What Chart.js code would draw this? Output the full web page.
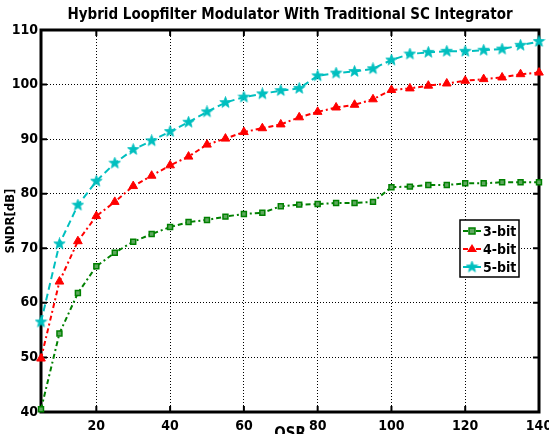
<!DOCTYPE html>
<html>
<head>
<meta charset="utf-8">
<script src="https://cdn.jsdelivr.net/npm/chart.js@4/dist/chart.umd.min.js"></script>
<style>
  html, body { margin: 0; padding: 0; background: #fff; }
  #wrap { width: 549px; height: 434px; position: relative; }
</style>
</head>
<body>
<div id="wrap"><canvas id="c" width="549" height="434"></canvas></div>
<script>
const osr = [5,10,15,20,25,30,35,40,45,50,55,60,65,70,75,80,85,90,95,100,105,110,115,120,125,130,135,140];
const sndr3 = [40.5,54.4,61.8,66.7,69.2,71.2,72.6,73.9,74.8,75.2,75.8,76.3,76.5,77.7,78.0,78.1,78.3,78.3,78.5,81.2,81.3,81.6,81.6,81.9,81.9,82.1,82.1,82.1];
const sndr4 = [49.8,63.9,71.3,75.9,78.5,81.4,83.3,85.2,86.8,89.0,90.1,91.3,92.0,92.7,94.0,95.0,95.8,96.3,97.3,99.0,99.3,99.8,100.2,100.7,101.0,101.3,101.9,102.2];
const sndr5 = [56.5,70.8,77.9,82.3,85.6,88.1,89.7,91.4,93.1,95.0,96.7,97.7,98.3,98.9,99.3,101.6,102.1,102.4,102.9,104.5,105.6,105.9,106.1,106.1,106.3,106.5,107.2,107.9];
const seriesNames = ['3-bit','4-bit','5-bit'];
const xTicks = [20,40,60,80,100,120,140];
const yTicks = [40,50,60,70,80,90,100,110];

const FONT = "'DejaVu Sans Condensed', 'Liberation Sans Narrow', sans-serif";
const GREEN = '#008000', RED = '#ff0000', CYAN = '#00bfbf';

function makeStar(color, size) {
  const c = document.createElement('canvas');
  c.width = size; c.height = size;
  const g = c.getContext('2d');
  const cx = size / 2, cy = size / 2, R = size / 2 - 0.5, r = R * 0.42;
  g.beginPath();
  for (let i = 0; i < 10; i++) {
    const a = -Math.PI / 2 + i * Math.PI / 5;
    const rr = i % 2 === 0 ? R : r;
    const px = cx + rr * Math.cos(a), py = cy + rr * Math.sin(a);
    if (i === 0) g.moveTo(px, py); else g.lineTo(px, py);
  }
  g.closePath();
  g.fillStyle = color; g.fill();
  g.strokeStyle = color; g.lineWidth = 0.8; g.stroke();
  return c;
}
const starImg = makeStar(CYAN, 13);

function pts(ys) { return osr.map((x, i) => ({ x: x, y: ys[i] })); }

const frameAndLegend = {
  id: 'frameAndLegend',
  beforeDatasetsDraw(chart) {
    const ctx = chart.ctx, a = chart.chartArea;
    const xs = chart.scales.x, ys = chart.scales.y;
    ctx.save();
    ctx.strokeStyle = '#000'; ctx.lineWidth = 2;
    ctx.beginPath();
    xTicks.forEach(v => {
      const px = xs.getPixelForValue(v);
      ctx.moveTo(px, a.top); ctx.lineTo(px, a.top + 6);
      ctx.moveTo(px, a.bottom); ctx.lineTo(px, a.bottom - 6);
    });
    yTicks.forEach(v => {
      const py = ys.getPixelForValue(v);
      ctx.moveTo(a.left, py); ctx.lineTo(a.left + 6, py);
      ctx.moveTo(a.right, py); ctx.lineTo(a.right - 6, py);
    });
    ctx.stroke();
    ctx.lineWidth = 3;
    ctx.strokeRect(a.left, a.top, a.right - a.left, a.bottom - a.top);
    ctx.restore();
  },
  afterDatasetsDraw(chart) {
    const ctx = chart.ctx;
    ctx.save();
    const bx = 460, by = 220, bw = 59, bh = 57;
    ctx.fillStyle = '#fff';
    ctx.fillRect(bx, by, bw, bh);
    ctx.lineWidth = 1.5; ctx.strokeStyle = '#000';
    ctx.strokeRect(bx, by, bw, bh);
    const rows = [231, 249, 267];
    chart.data.datasets.forEach((ds, i) => {
      const y = rows[i];
      ctx.strokeStyle = ds.borderColor; ctx.lineWidth = 2;
      ctx.setLineDash(ds.borderDash || []);
      ctx.beginPath(); ctx.moveTo(bx + 3, y); ctx.lineTo(bx + 21, y); ctx.stroke();
      ctx.setLineDash([]);
      const mx = bx + 12;
      if (i === 0) {
        ctx.fillStyle = ds.pointBackgroundColor; ctx.strokeStyle = ds.pointBorderColor; ctx.lineWidth = 1.5;
        ctx.fillRect(mx - 3, y - 3, 6, 6); ctx.strokeRect(mx - 3, y - 3, 6, 6);
      } else if (i === 1) {
        ctx.fillStyle = RED;
        ctx.beginPath(); ctx.moveTo(mx, y - 5); ctx.lineTo(mx + 5, y + 3); ctx.lineTo(mx - 5, y + 3); ctx.closePath(); ctx.fill();
      } else {
        ctx.drawImage(starImg, mx - 6.5, y - 6.5);
      }
      ctx.fillStyle = '#000';
      ctx.font = 'bold 14px ' + FONT;
      ctx.textBaseline = 'middle'; ctx.textAlign = 'left';
      ctx.fillText(ds.label, bx + 23, y + 1);
    });
    ctx.restore();
  }
};

new Chart(document.getElementById('c'), {
  type: 'line',
  data: {
    datasets: [
      { label: seriesNames[0], data: pts(sndr3), borderColor: GREEN, borderWidth: 2, borderDash: [5,3,2,3], clip: false,
        pointStyle: 'rect', pointRadius: 3.5, pointBorderWidth: 1.5, pointBorderColor: GREEN, pointBackgroundColor: '#5fa85f', tension: 0 },
      { label: seriesNames[1], data: pts(sndr4), borderColor: RED, borderWidth: 2, borderDash: [5,3,2,3], clip: false,
        pointStyle: 'triangle', pointRadius: 5, pointBorderWidth: 1, pointBorderColor: RED, pointBackgroundColor: RED, tension: 0 },
      { label: seriesNames[2], data: pts(sndr5), borderColor: CYAN, borderWidth: 2, borderDash: [7,4], clip: false,
        pointStyle: starImg, pointRadius: 6.5, pointBorderColor: CYAN, pointBackgroundColor: CYAN, tension: 0 }
    ]
  },
  options: {
    responsive: false,
    animation: false,
    events: [],
    layout: { padding: { left: 0, right: 10, top: 0, bottom: 0 } },
    plugins: {
      legend: { display: false },
      tooltip: { enabled: false },
      title: {
        display: true,
        fullSize: false,
        text: 'Hybrid Loopfilter Modulator With Traditional SC Integrator',
        color: '#000',
        font: { family: FONT, size: 15, weight: 'bold', lineHeight: 1.0 },
        padding: { top: 8, bottom: 7 }
      }
    },
    scales: {
      x: {
        type: 'linear', min: 5, max: 140,
        afterBuildTicks: s => { s.ticks = xTicks.map(v => ({ value: v })); },
        afterFit: s => { s.height = 22; s.paddingLeft = 0; s.paddingRight = 0; },
        grid: { color: '#000', lineWidth: 1, drawTicks: false },
        border: { display: false, dash: [1,2] },
        ticks: { color: '#000', padding: 6, font: { family: FONT, size: 14, weight: 'bold' }, maxRotation: 0 },
        title: { display: true, text: 'OSR', color: '#000', padding: { top: 0, bottom: -8 },
                 font: { family: FONT, size: 15, weight: 'bold', lineHeight: 1.0 } }
      },
      y: {
        type: 'linear', min: 40, max: 110,
        afterBuildTicks: s => { s.ticks = yTicks.map(v => ({ value: v })); },
        afterFit: s => { s.width = 41; s.paddingTop = 0; s.paddingBottom = 0; },
        grid: { color: '#000', lineWidth: 1, drawTicks: false },
        border: { display: false, dash: [1,2] },
        ticks: { color: '#000', padding: 3, font: { family: FONT, size: 14, weight: 'bold' } },
        title: { display: true, text: 'SNDR[dB]', color: '#000', padding: { top: 4, bottom: 0 },
                 font: { family: FONT, size: 13, weight: 'bold', lineHeight: 1.0 } }
      }
    }
  },
  plugins: [frameAndLegend]
});
</script>
</body>
</html>
